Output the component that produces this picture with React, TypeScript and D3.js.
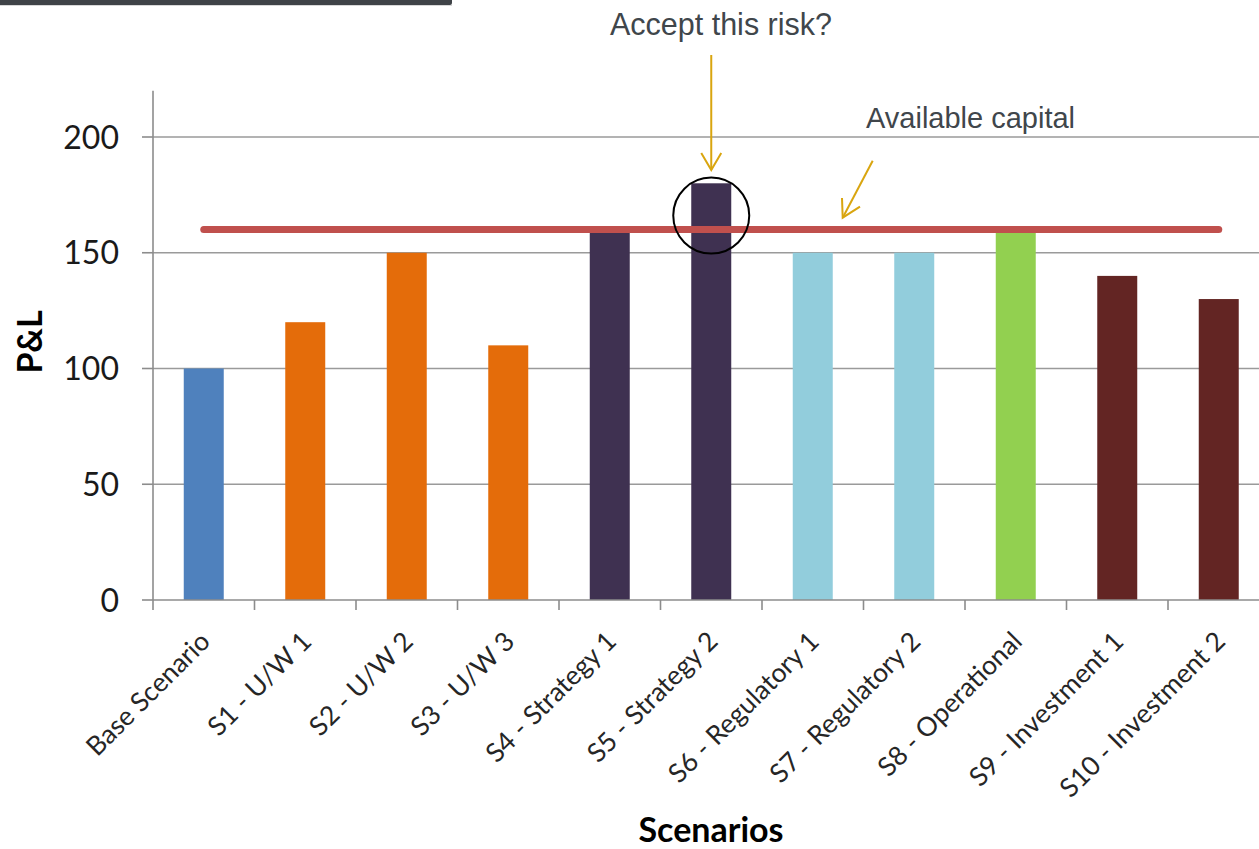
import React from "react";
import * as d3 from "d3";

const categories = [
  "Base Scenario",
  "S1 - U/W 1",
  "S2 - U/W 2",
  "S3 - U/W 3",
  "S4 - Strategy 1",
  "S5 - Strategy 2",
  "S6 - Regulatory 1",
  "S7 - Regulatory 2",
  "S8 - Operational",
  "S9 - Investment 1",
  "S10 - Investment 2",
];
const pnlValues = [100, 120, 150, 110, 160, 180, 150, 150, 160, 140, 130];
const barColors = [
  "#4f81bd",
  "#e46c0a",
  "#e46c0a",
  "#e46c0a",
  "#3f3151",
  "#3f3151",
  "#92cddc",
  "#92cddc",
  "#92d050",
  "#632523",
  "#632523",
];
const capitalValue = 160;
const yTicks = [0, 50, 100, 150, 200];
const highlightIndex = 5;

const W = 1259;
const H = 849;
const left = 153;
const right = 1269.5;
const bottom = 600;
const top = 90.7;

export default function App() {
  const x = d3.scaleBand<string>().domain(categories).range([left, right]).padding(0);
  const y = d3.scaleLinear().domain([0, 220]).range([bottom, top]);
  const bw = x.bandwidth();
  const barW = bw * 0.394;
  const cx = (c: string) => (x(c) as number) + bw / 2;

  const capLine = d3
    .line<string>()
    .x((c) => cx(c))
    .y(() => y(capitalValue));

  const hlX = cx(categories[highlightIndex]);
  const hlY = y(capitalValue) - 14;

  const gold = "#d9a50f";
  const textGray = "#40464b";
  const calibri = "Lato, 'Open Sans', sans-serif";

  return (
    <svg
      width={W}
      height={H}
      style={{ position: "absolute", left: 0, top: 0, background: "#fff" }}
    >
      {/* top dark strip */}
      <path d="M0,0 H452 V3 Q452,5 450,5 H0 Z" fill="#3f4347" />
      <line x1={0} x2={452} y1={5.5} y2={5.5} stroke="#d8d8d8" strokeWidth={1} />

      {/* gridlines */}
      {yTicks
        .filter((t) => t > 0)
        .map((t) => (
          <line
            key={"g" + t}
            x1={left}
            x2={right}
            y1={y(t)}
            y2={y(t)}
            stroke="#9a9a9a"
            strokeWidth={1.6}
          />
        ))}

      {/* bars */}
      {categories.map((c, i) => (
        <rect
          key={c}
          x={cx(c) - barW / 2}
          y={y(pnlValues[i])}
          width={barW}
          height={bottom - y(pnlValues[i])}
          fill={barColors[i]}
        />
      ))}

      {/* y axis */}
      <line x1={left} x2={left} y1={top} y2={bottom} stroke="#8c8c8c" strokeWidth={1.6} />
      {yTicks.map((t) => (
        <g key={"yt" + t}>
          <line x1={left - 11} x2={left} y1={y(t)} y2={y(t)} stroke="#8c8c8c" strokeWidth={1.6} />
          <text
            x={119}
            y={y(t)}
            dy="0.36em"
            textAnchor="end"
            fontFamily={calibri}
            fontSize={32}
            fill="#1a1a1a"
          >
            {t}
          </text>
        </g>
      ))}

      {/* x axis */}
      <line x1={left} x2={right} y1={bottom} y2={bottom} stroke="#8c8c8c" strokeWidth={1.6} />
      {categories.map((c) => (
        <line
          key={"xt" + c}
          x1={x(c) as number}
          x2={x(c) as number}
          y1={bottom}
          y2={bottom + 10}
          stroke="#8c8c8c"
          strokeWidth={1.6}
        />
      ))}
      {categories.map((c) => (
        <text
          key={"xl" + c}
          transform={`translate(${cx(c) + 8},${bottom + 43}) rotate(-45)`}
          textAnchor="end"
          fontFamily={calibri}
          fontSize={26.5}
          fill="#262626"
        >
          {c}
        </text>
      ))}

      {/* axis titles */}
      <text
        transform={`translate(42,342) rotate(-90)`}
        textAnchor="middle"
        fontFamily={calibri}
        fontWeight="bold"
        fontSize={34}
        fill="#000"
      >
        P&amp;L
      </text>
      <text
        x={711}
        y={842}
        textAnchor="middle"
        fontFamily={calibri}
        fontWeight="bold"
        fontSize={34}
        fill="#000"
      >
        Scenarios
      </text>

      {/* available capital line */}
      <path
        d={capLine(categories) as string}
        fill="none"
        stroke="#c0504d"
        strokeWidth={7}
        strokeLinecap="round"
      />

      {/* highlight circle */}
      <circle cx={hlX} cy={hlY} r={38} fill="none" stroke="#000" strokeWidth={2} />

      {/* annotations */}
      <text
        x={721}
        y={35}
        textAnchor="middle"
        fontFamily="'Liberation Sans', Arial, sans-serif"
        fontSize={30.5}
        fill={textGray}
      >
        Accept this risk?
      </text>
      <g stroke={gold} strokeWidth={2} fill="none">
        <line x1={hlX} x2={hlX} y1={55} y2={170} />
        <polyline points={`${hlX - 10},153 ${hlX},170 ${hlX + 10},153`} />
      </g>

      <text
        x={866}
        y={128}
        fontFamily="'Liberation Sans', Arial, sans-serif"
        fontSize={29}
        fill={textGray}
      >
        Available capital
      </text>
      <g stroke={gold} strokeWidth={2} fill="none">
        <line x1={872.7} y1={160.7} x2={842.7} y2={217.7} />
        <polyline points={`842,198 842.7,217.7 860,206.7`} />
      </g>
    </svg>
  );
}
